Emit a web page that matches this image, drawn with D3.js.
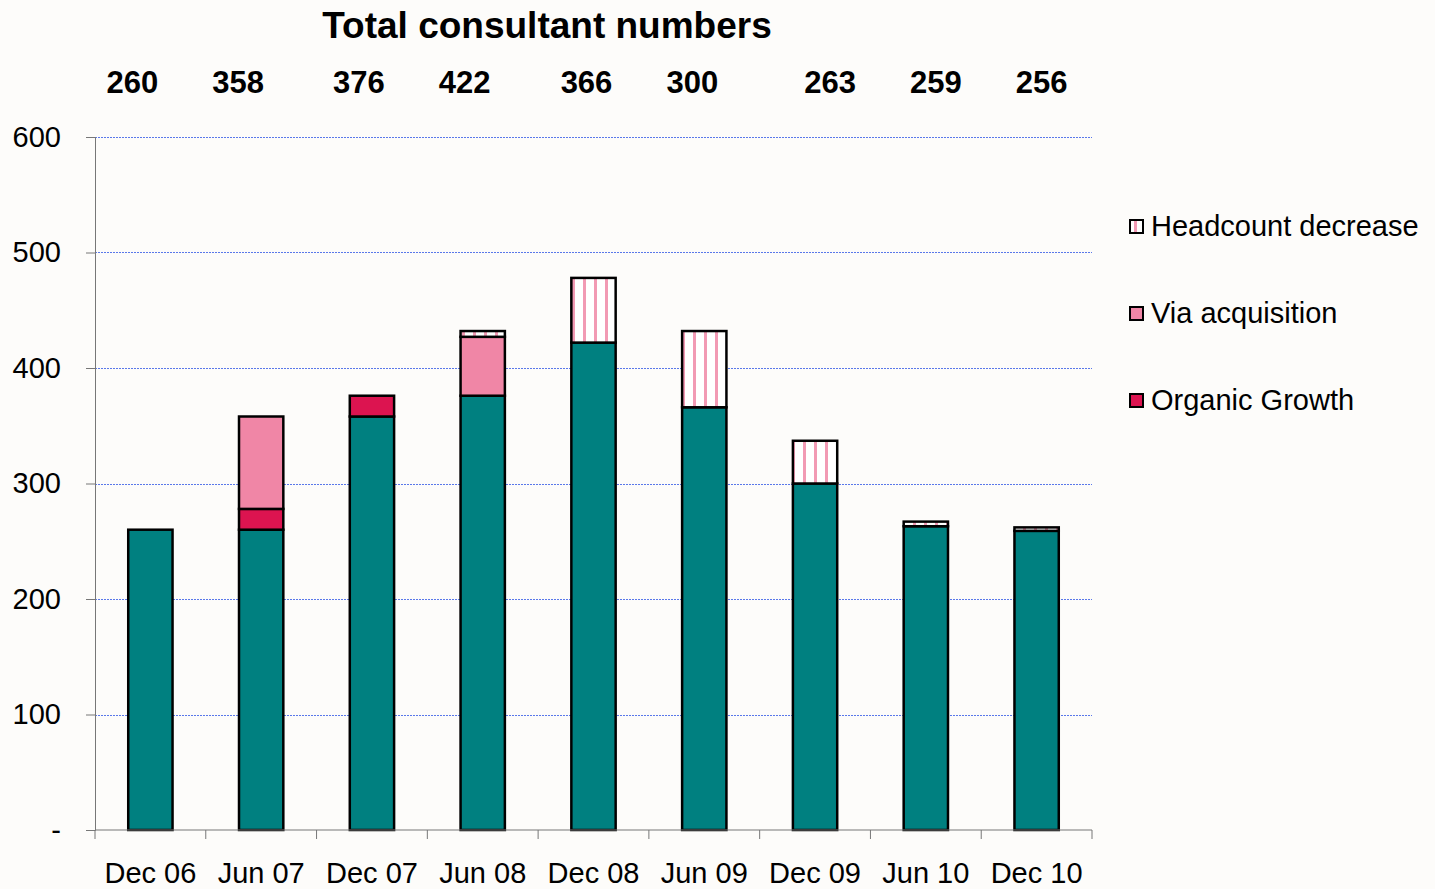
<!DOCTYPE html>
<html>
<head>
<meta charset="utf-8">
<script src="https://cdn.jsdelivr.net/npm/d3@7"></script>
<style>
  body { margin: 0; background: #fdfcfa; }
  text { font-family: "Liberation Sans", Arial, sans-serif; }
</style>
</head>
<body>
<div id="chart"></div>
<script>
// data
var periods = ["Dec 06", "Jun 07", "Dec 07", "Jun 08", "Dec 08", "Jun 09", "Dec 09", "Jun 10", "Dec 10"];
var totals = [260, 358, 376, 422, 366, 300, 263, 259, 256];
var base = [260, 260, 358, 376, 422, 366, 300, 263, 259];
var organic = [0, 18, 18, 0, 0, 0, 0, 0, 0];
var acquisition = [0, 80, 0, 51, 0, 0, 0, 0, 0];
var decrease = [0, 0, 0, 5, 56, 66, 37, 4, 3];
var yTicks = [0, 100, 200, 300, 400, 500, 600];

// label nudges (layout only)
var labelShift = [-18, -23, -13, -18, -7, -12, 15, 10, 5];

var width = 1435, height = 889;
var margin = { top: 137, right: 343, bottom: 59, left: 95 };
var w = width - margin.left - margin.right;
var h = height - margin.top - margin.bottom;

var svg = d3.select("#chart").append("svg")
    .attr("width", width)
    .attr("height", height);

var defs = svg.append("defs");
var pat = defs.append("pattern")
    .attr("id", "stripes")
    .attr("patternUnits", "userSpaceOnUse")
    .attr("width", 11).attr("height", 11);
pat.append("rect").attr("width", 11).attr("height", 11).attr("fill", "#ffffff");
pat.append("rect").attr("x", 4).attr("width", 3).attr("height", 11).attr("fill", "#f29ab4");

var g = svg.append("g")
    .attr("transform", "translate(" + margin.left + "," + margin.top + ")");

var x = d3.scaleBand()
    .domain(periods)
    .range([0, w])
    .paddingInner(0.6)
    .paddingOuter(0.3);

var y = d3.scaleLinear()
    .domain([0, 600])
    .range([h, 0]);

// gridlines
g.selectAll(".grid")
    .data(yTicks.filter(function(d) { return d > 0; }))
  .enter().append("line")
    .attr("x1", 0).attr("x2", w)
    .attr("y1", function(d) { return Math.round(y(d)) + 0.5; })
    .attr("y2", function(d) { return Math.round(y(d)) + 0.5; })
    .attr("stroke", "#5a78ea")
    .attr("stroke-width", 1)
    .attr("shape-rendering", "crispEdges")
    .attr("stroke-dasharray", "2,1");

// stacked bars
var rows = periods.map(function(p, i) {
  return { period: p, base: base[i], organic: organic[i], acquisition: acquisition[i], decrease: decrease[i] };
});
var keys = ["base", "organic", "acquisition", "decrease"];
var fills = { base: "#008080", organic: "#dc1450", acquisition: "#f086a6", decrease: "url(#stripes)" };

var series = d3.stack().keys(keys)(rows);

series.forEach(function(s) {
  g.append("g").selectAll("rect")
      .data(s.filter(function(d) { return d[1] - d[0] > 0; }))
    .enter().append("rect")
      .attr("x", function(d) { return x(d.data.period); })
      .attr("width", x.bandwidth())
      .attr("y", function(d) { return y(d[1]); })
      .attr("height", function(d) { return y(d[0]) - y(d[1]); })
      .attr("fill", fills[s.key])
      .attr("stroke", "#000")
      .attr("stroke-width", 2.5);
});

// axes
var yAxis = g.append("g")
    .call(d3.axisLeft(y).tickValues(yTicks).tickSize(9).tickPadding(25)
      .tickFormat(function(d) { return d === 0 ? "-" : d; }));
yAxis.select(".domain").attr("stroke", "#777");
yAxis.selectAll(".tick line").attr("stroke", "#777");
yAxis.selectAll("text").style("font-size", "29px").attr("fill", "#000");

var xAxis = g.append("g")
    .attr("transform", "translate(0," + h + ")")
    .call(d3.axisBottom(x).tickSize(0).tickPadding(32));
xAxis.select(".domain").remove();
xAxis.selectAll("text").style("font-size", "29px").attr("fill", "#000");

g.append("line")
    .attr("x1", 0).attr("x2", w)
    .attr("y1", h).attr("y2", h)
    .attr("stroke", "#777");

// tick marks between categories
var edges = periods.map(function(p) { return x(p) - x.step() * x.paddingInner() / 2; });
edges.push(w);
g.selectAll(".xtick")
    .data(edges)
  .enter().append("line")
    .attr("x1", function(d) { return d; })
    .attr("x2", function(d) { return d; })
    .attr("y1", h).attr("y2", h + 9)
    .attr("stroke", "#777");

// totals across the top
g.selectAll(".total")
    .data(totals)
  .enter().append("text")
    .attr("x", function(d, i) { return x(periods[i]) + x.bandwidth() / 2 + labelShift[i]; })
    .attr("y", -44)
    .attr("text-anchor", "middle")
    .style("font-size", "31px")
    .style("font-weight", "bold")
    .text(function(d) { return d; });

svg.append("text")
    .attr("x", 547).attr("y", 38)
    .attr("text-anchor", "middle")
    .style("font-size", "37px")
    .style("font-weight", "bold")
    .text("Total consultant numbers");

// legend
var legendItems = [
  { label: "Headcount decrease", fill: "url(#stripes)" },
  { label: "Via acquisition", fill: "#f086a6" },
  { label: "Organic Growth", fill: "#dc1450" }
];
var legend = svg.append("g").attr("transform", "translate(1130,226)");
legendItems.forEach(function(d, i) {
  var row = legend.append("g").attr("transform", "translate(0," + (i * 87) + ")");
  row.append("rect")
      .attr("x", 0).attr("y", -6)
      .attr("width", 13).attr("height", 13)
      .attr("fill", d.fill)
      .attr("stroke", "#000")
      .attr("stroke-width", 2);
  row.append("text")
      .attr("x", 21).attr("y", 10)
      .style("font-size", "29px")
      .text(d.label);
});
</script>
</body>
</html>
